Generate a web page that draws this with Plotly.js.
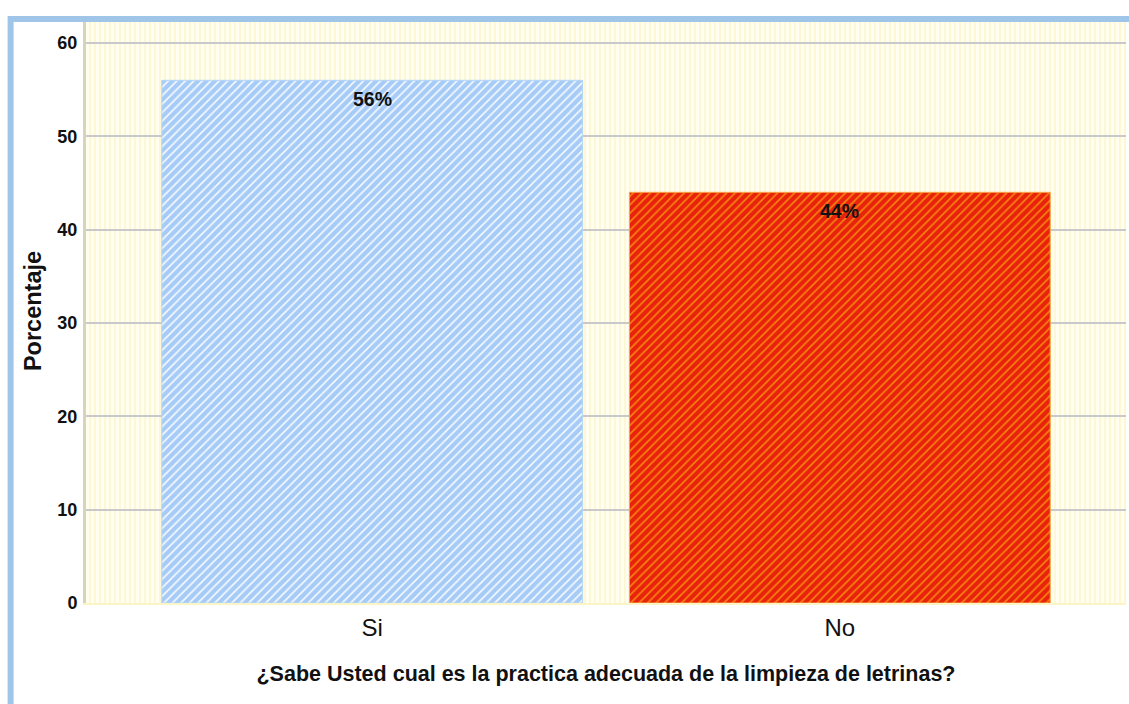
<!DOCTYPE html>
<html>
<head>
<meta charset="utf-8">
<script src="https://cdn.plot.ly/plotly-3.0.1.min.js"></script>
<style>
  html, body { margin: 0; padding: 0; background: #ffffff; }
  #wrap { position: relative; width: 1129px; height: 704px; overflow: hidden; }
  #bg { position: absolute; left: 86px; top: 19px; width: 1040px; height: 584px;
        background: repeating-linear-gradient(90deg, #fffef0 0px, #fffef0 3px, #fcf7d4 3px, #fcf7d4 5px); }
  #chart { position: absolute; left: 0; top: 0; width: 1129px; height: 704px; }
</style>
</head>
<body>
<div id="wrap">
  <div id="bg"></div>
  <div id="chart"></div>
</div>
<script>
const categories = ["Si", "No"];
const percentages = [56, 44];
const labels = ["56%", "44%"];
const yTicks = [0, 10, 20, 30, 40, 50, 60];
const xTitle = "¿Sabe Usted cual es la practica adecuada de la limpieza de letrinas?";
const yTitle = "Porcentaje";

const barBg = ["#a6cbf7", "#e8220c"];
const barFg = ["#f4f9ff", "#f8820f"];
const barEdge = ["#b4d4f8", "#f6a44a"];

const FONT = "Liberation Sans, Arial, sans-serif";

const traces = categories.map((c, i) => ({
  type: "bar",
  x: [c],
  y: [percentages[i]],
  width: 0.9,
  marker: {
    color: barBg[i],
    line: { color: barEdge[i], width: 1 },
    pattern: { shape: "/", bgcolor: barBg[i], fgcolor: barFg[i], size: 6, solidity: 0.28, fillmode: "replace" }
  },
  hoverinfo: "skip"
}));

const annotations = categories.map((c, i) => ({
  x: c, y: percentages[i], xref: "x", yref: "y",
  text: labels[i], showarrow: false, yanchor: "top", yshift: -6,
  font: { family: FONT, size: 19.5, color: "#111111", weight: "bold" }
}));

const layout = {
  width: 1129, height: 704,
  margin: { l: 86, r: 3, t: 19, b: 101 },
  paper_bgcolor: "rgba(0,0,0,0)",
  plot_bgcolor: "rgba(0,0,0,0)",
  showlegend: false,
  barmode: "overlay",
  xaxis: {
    type: "category",
    range: [-0.612, 1.612],
    showgrid: false,
    zeroline: false,
    showline: true, linecolor: "#fbf4c4", linewidth: 2,
    ticks: "", ticklabelstandoff: 2,
    tickfont: { family: FONT, size: 24, color: "#111111" },
    title: { text: xTitle, standoff: 26,
      font: { family: FONT, size: 21.5, color: "#111111", weight: "bold" } }
  },
  yaxis: {
    range: [0, 62.57],
    tickvals: yTicks,
    showgrid: true, gridcolor: "#c9c9c9", gridwidth: 2,
    zeroline: false,
    showline: true, linecolor: "#d8d4b6", linewidth: 3,
    ticks: "", ticklabelstandoff: 2,
    tickfont: { family: FONT, size: 18, color: "#111111", weight: "bold" },
    title: { text: yTitle, standoff: 10,
      font: { family: FONT, size: 23.5, color: "#111111", weight: "bold" } }
  },
  annotations: annotations,
  shapes: [
    { type: "line", xref: "paper", yref: "paper", x0: -0.0745, x1: 1.003, y0: 1.0, y1: 1.0,
      line: { color: "#9fc5e8", width: 6 } },
    { type: "line", xref: "paper", yref: "paper", x0: -0.0725, x1: -0.0725, y0: -0.2, y1: 1.005,
      line: { color: "#9fc5e8", width: 6 } }
  ]
};

Plotly.newPlot("chart", traces, layout, { staticPlot: true, displayModeBar: false });
</script>
</body>
</html>
